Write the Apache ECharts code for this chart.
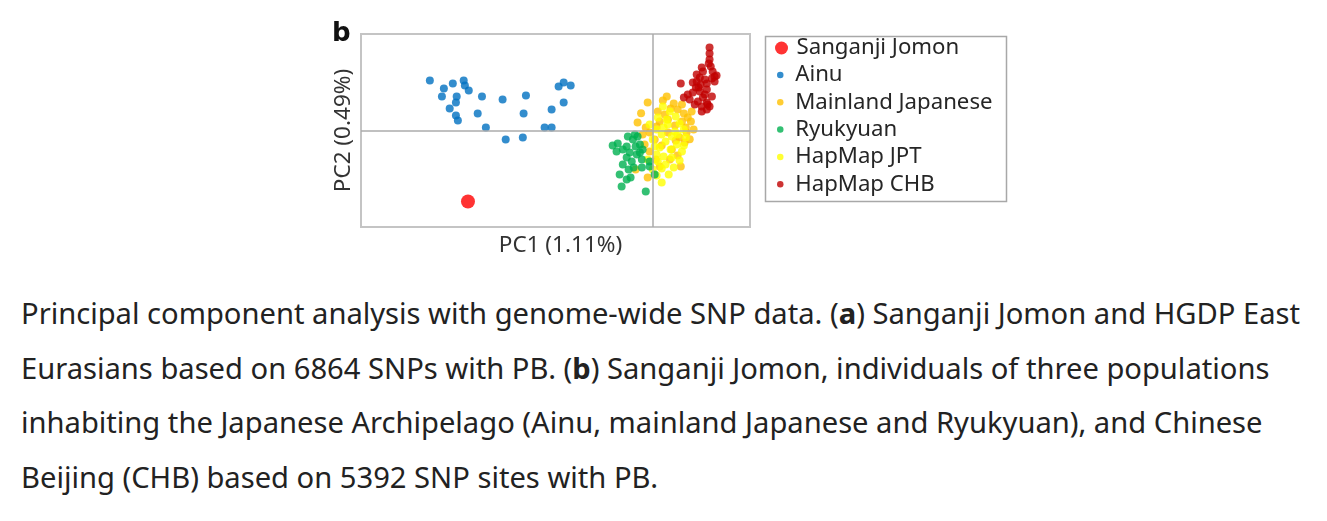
<!DOCTYPE html>
<html>
<head>
<meta charset="utf-8">
<script src="https://cdn.jsdelivr.net/npm/echarts@6/dist/echarts.min.js"></script>
<style>
  html, body { margin: 0; padding: 0; background: #fff; }
  #chart { position: absolute; left: 0; top: 0; width: 1327px; height: 270px; }
  #caption {
    position: absolute; left: 21px; top: 286px;
    font-family: "Noto Sans", sans-serif; font-size: 29.15px; line-height: 54.5px;
    color: #222; white-space: nowrap;
  }
</style>
</head>
<body>
<div id="chart"></div>
<div id="caption">Principal component analysis with genome-wide SNP data. (<b>a</b>) Sanganji Jomon and HGDP East<br>Eurasians based on 6864 SNPs with PB. (<b>b</b>) Sanganji Jomon, individuals of three populations<br>inhabiting the Japanese Archipelago (Ainu, mainland Japanese and Ryukyuan), and Chinese<br>Beijing (CHB) based on 5392 SNP sites with PB.</div>
<script>
// PC scores (x1000)
const jomon = [[-47.5, -36.8]];

const ainu = [
  [-57.3, 25.9], [-53.7, 21.8], [-54.2, 17.6], [-51.4, 24.3], [-48.6, 25.9],
  [-48.3, 23.3], [-47.3, 20.7], [-50.4, 17.6], [-50.6, 14.5], [-52.2, 11.4],
  [-50.6, 7.8], [-50.1, 5.2], [-43.9, 17.6], [-45.0, 8.8], [-42.9, 1.6],
  [-38.6, 16.1], [-37.8, -4.7], [-32.6, 18.1], [-33.2, 8.8], [-33.4, -3.6],
  [-27.8, 1.6], [-26.0, 1.6], [-26.0, 10.9], [-22.9, 14.5], [-24.2, 22.8],
  [-22.9, 24.9], [-21.1, 23.3]
];

const mainland = [
  [3.6, 17.6], [2.6, 15.5], [-1.3, 14.5], [5.4, 14.0], [7.5, 13.5],
  [4.6, 11.4], [6.4, 10.9], [8.0, 8.8], [9.0, 6.7], [3.1, 8.3],
  [1.3, 9.8], [-3.9, 4.1], [9.8, 4.7], [7.5, 4.7], [5.7, 2.6],
  [1.0, 2.1], [-1.8, 1.6], [8.5, 1.6], [-0.8, -1.0], [-2.6, -2.1],
  [3.9, -1.0], [8.7, -1.0], [6.9, -3.6], [0.5, -4.7], [8.2, -6.2],
  [2.3, -7.8], [4.9, -9.8], [6.4, -13.0], [-0.8, -10.9], [7.2, -18.6],
  [1.8, -18.6], [-4.4, -20.2], [-1.3, -24.3], [0.8, -15.0], [-2.1, -7.3],
  [5.9, -5.2], [3.9, 5.7], [10.0, 9.8], [1.8, 4.7], [4.4, -15.0],
  [-3.0, 9.0], [10.5, 0.5], [9.5, -4.5]
];

const jpt = [
  [2.6, 12.4], [4.4, 9.8], [5.9, 7.3], [3.9, 3.1], [6.9, 3.6],
  [1.0, 0.5], [2.3, -2.1], [4.9, -3.1], [8.0, 0.5], [0.0, -4.7],
  [3.3, -5.7], [6.2, -7.3], [1.8, -8.8], [4.6, -9.8], [7.5, -10.9],
  [1.0, -12.4], [2.8, -13.5], [4.9, -14.0], [6.9, -15.5], [1.3, -16.1],
  [3.3, -17.6], [0.0, -20.2], [2.3, -19.7], [5.4, -19.2], [1.0, -23.3],
  [2.3, -26.9], [-1.3, -15.0], [5.7, -0.5], [8.5, -3.6], [3.6, 5.7],
  [1.3, 6.7], [-0.8, 3.1], [8.0, -7.8], [4.1, -22.8], [6.4, -2.1],
  [2.8, 1.6], [0.5, -8.3]
];

const ryukyuan = [
  [-10.3, -7.8], [-9.0, -6.7], [-7.7, -9.8], [-6.7, -8.3], [-5.1, -4.7],
  [-6.4, -3.1], [-4.6, -2.1], [-3.9, -3.1], [-5.9, -11.4], [-4.1, -12.4],
  [-6.7, -14.0], [-3.3, -11.4], [-2.8, -15.0], [-5.4, -16.1], [-2.6, -9.8],
  [-0.8, -16.1], [-7.7, -17.6], [-4.9, -19.2], [-2.8, -19.2], [-8.5, -22.8],
  [-6.7, -25.4], [-5.7, -24.3], [-8.0, -29.0], [-1.8, -31.6], [0.5, -22.8],
  [-0.8, -18.6], [-3.3, -7.3], [-9.3, -10.9], [-6.2, -20.2], [-4.4, -8.3]
];

const chb = [
  [14.6, 43.0], [14.6, 39.9], [14.6, 36.8], [14.9, 33.2], [12.6, 32.6],
  [12.9, 30.6], [15.9, 28.0], [15.2, 26.9], [12.1, 27.5], [11.3, 25.4],
  [13.9, 24.3], [7.2, 24.3], [11.8, 22.3], [13.9, 21.2], [10.3, 19.7],
  [8.0, 17.1], [12.9, 17.1], [11.6, 15.0], [9.5, 16.1], [13.9, 14.5],
  [14.6, 12.4], [12.6, 12.4], [10.8, 13.5], [16.4, 28.5], [11.3, 29.0],
  [10.3, 24.9], [12.1, 20.2], [14.1, 13.5], [12.6, 9.8], [13.9, 10.9],
  [13.4, 26.4], [15.4, 30.6], [9.0, 18.6], [13.4, 18.6], [15.9, 25.4],
  [14.4, 34.7], [11.1, 22.3], [15.2, 17.6], [12.3, 23.8]
];

const chart = echarts.init(document.getElementById('chart'));

const FONT = 'Noto Sans';
const DOT = 8;

chart.setOption({
  animation: false,
  textStyle: { fontFamily: FONT },
  title: {
    text: 'b', left: 327, top: 16,
    textStyle: { fontSize: 26, fontWeight: 'bold', color: '#111', fontFamily: 'DejaVu Sans' }
  },
  grid: {
    left: 361, top: 34, width: 389, height: 193,
    show: true, borderColor: '#c4c4c4', borderWidth: 2, backgroundColor: 'transparent'
  },
  xAxis: {
    type: 'value', min: -75, max: 25,
    name: 'PC1 (1.11%)', nameLocation: 'middle', nameGap: 7,
    nameTextStyle: { fontSize: 22.5, color: '#333', verticalAlign: 'top', padding: [0, 0, 0, 10] },
    axisLine: { show: false }, axisTick: { show: false },
    axisLabel: { show: false }, splitLine: { show: false }
  },
  yAxis: {
    type: 'value', min: -50, max: 50,
    name: 'PC2 (0.49%)', nameLocation: 'middle', nameGap: 6,
    nameTextStyle: { fontSize: 22.5, color: '#333' },
    axisLine: { show: false }, axisTick: { show: false },
    axisLabel: { show: false }, splitLine: { show: false }
  },
  legend: [
    {
      data: ['Sanganji Jomon'],
      orient: 'vertical', left: 775, top: 37, padding: 0,
      itemWidth: 20, itemHeight: 13, icon: 'circle',
      textStyle: { fontSize: 22.2, color: '#262626', lineHeight: 22 }
    },
    {
      data: ['Ainu', 'Mainland Japanese', 'Ryukyuan', 'HapMap JPT', 'HapMap CHB'],
      orient: 'vertical', left: 777, top: 64, padding: 0, itemGap: 5.3,
      itemWidth: 20, itemHeight: 6.5, icon: 'circle',
      textStyle: { fontSize: 22.2, color: '#262626', lineHeight: 22 }
    }
  ],
  graphic: [{
    type: 'rect', left: 763, top: 34, silent: true,
    shape: { width: 241, height: 165 },
    style: { fill: 'none', stroke: '#a8a8a8', lineWidth: 1.5 }
  }],
  series: [
    {
      name: 'Ainu', type: 'scatter', data: ainu, symbolSize: DOT,
      itemStyle: { color: '#0070C0' },
      markLine: {
        silent: true, symbol: 'none', label: { show: false },
        lineStyle: { color: '#ababab', width: 1.5, type: 'solid' },
        data: [{ xAxis: 0 }, { yAxis: 0 }]
      }
    },
    { name: 'Mainland Japanese', type: 'scatter', data: mainland, symbolSize: DOT, itemStyle: { color: '#FFC000' } },
    { name: 'HapMap JPT', type: 'scatter', data: jpt, symbolSize: DOT, itemStyle: { color: '#FFFF00' } },
    { name: 'Ryukyuan', type: 'scatter', data: ryukyuan, symbolSize: DOT, itemStyle: { color: '#00B050' } },
    { name: 'HapMap CHB', type: 'scatter', data: chb, symbolSize: DOT, itemStyle: { color: '#C00000' } },
    { name: 'Sanganji Jomon', type: 'scatter', data: jomon, symbolSize: 14, itemStyle: { color: '#FF0000' } }
  ]
});
</script>
</body>
</html>
